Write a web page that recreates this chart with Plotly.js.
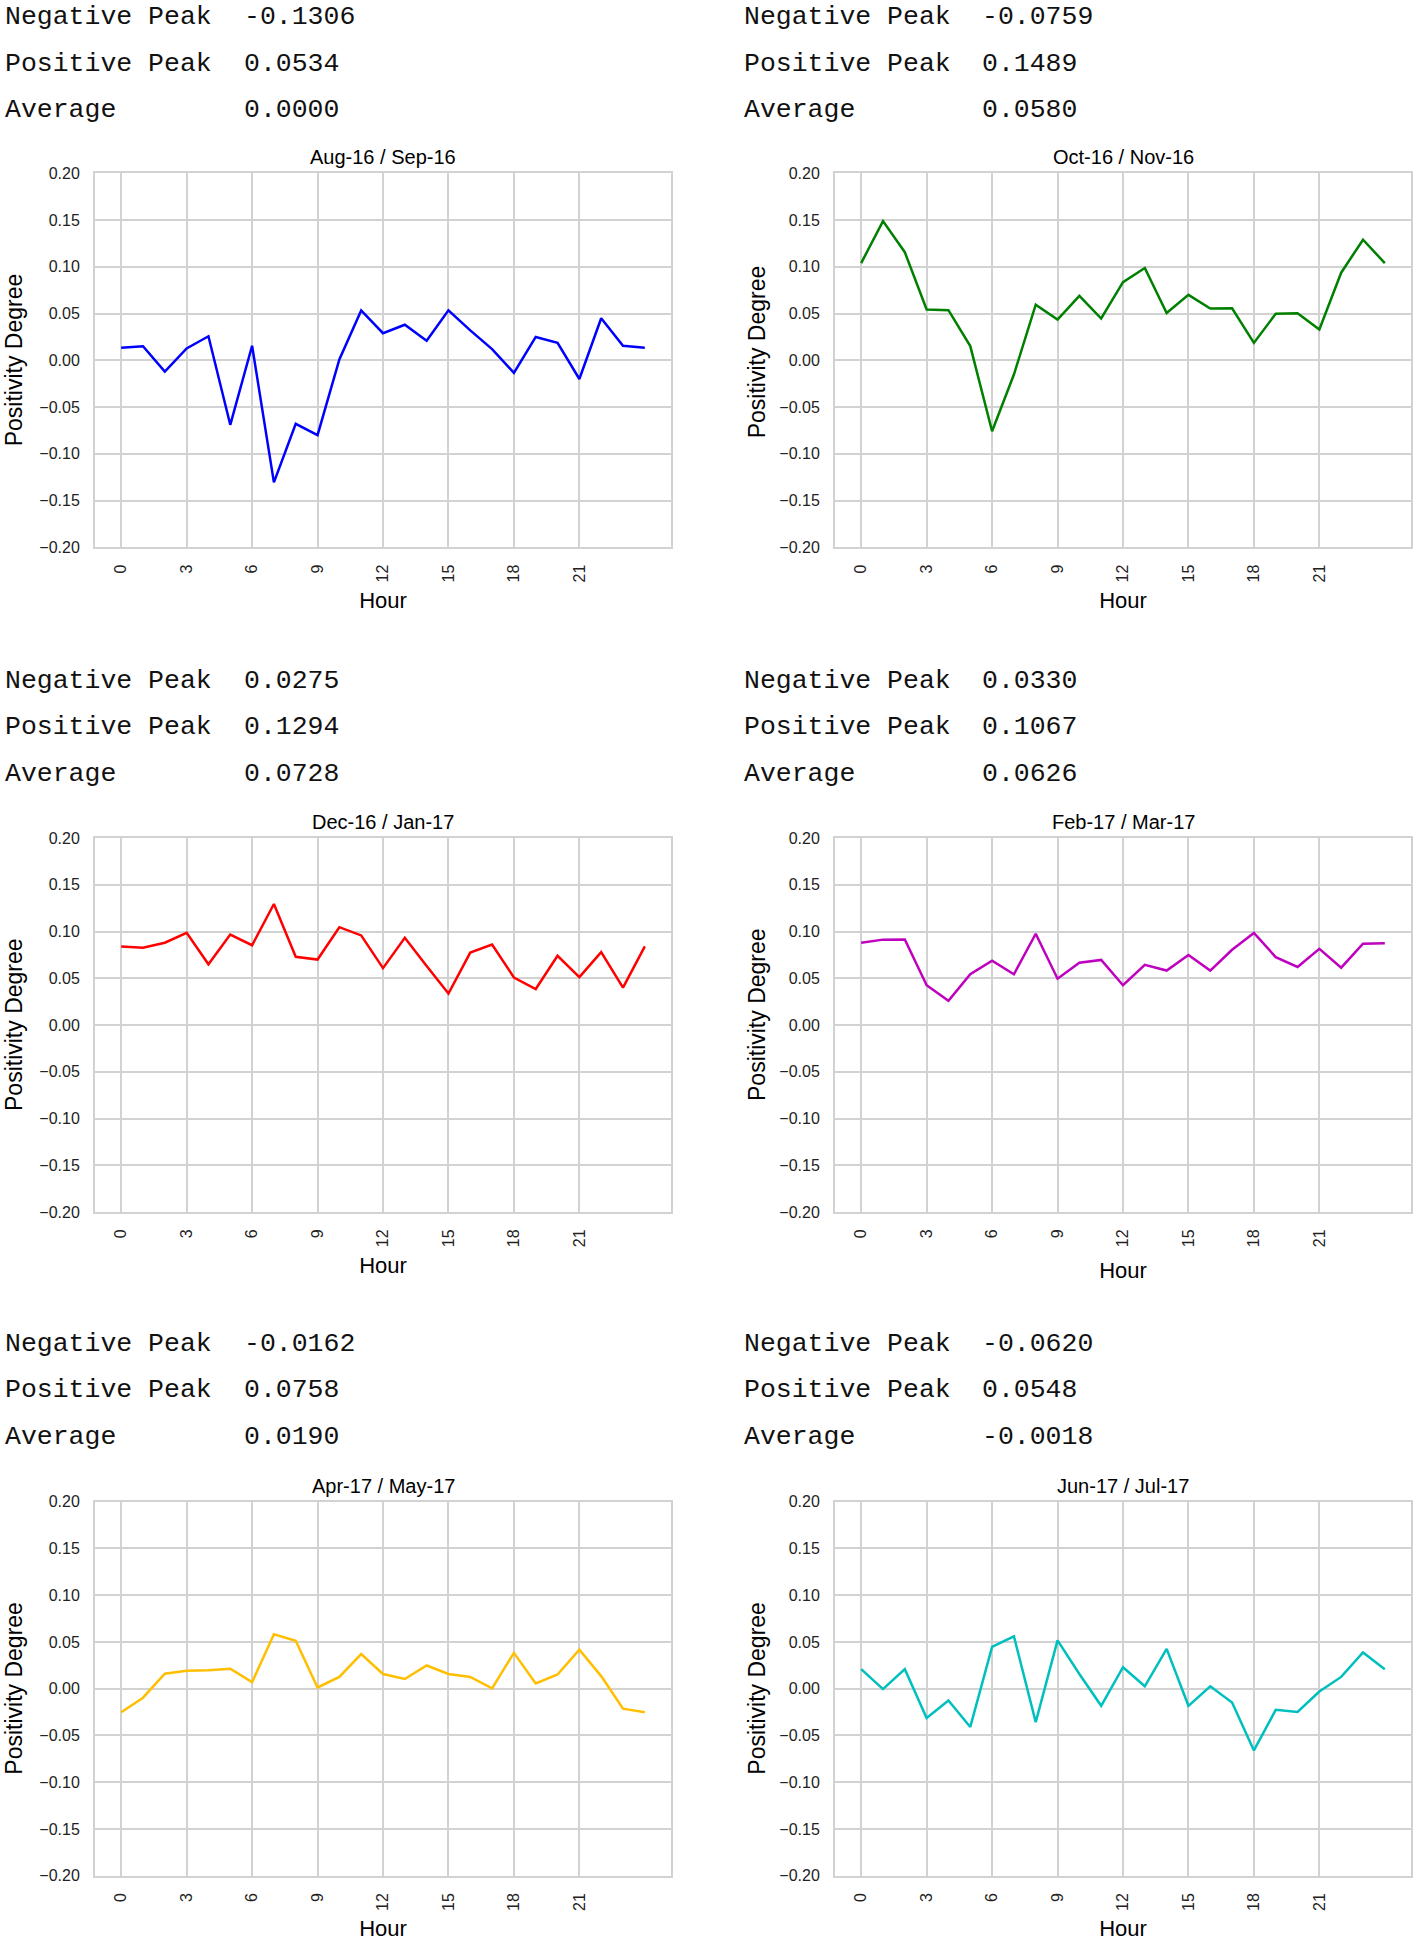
<!DOCTYPE html>
<html>
<head>
<meta charset="utf-8">
<script src="https://cdn.plot.ly/plotly-3.0.1.min.js"></script>
<style>
  html, body { margin: 0; padding: 0; background: #fff; overflow: hidden; }
  #chart { width: 1415px; height: 1941px; }
</style>
</head>
<body>
<div id="chart"></div>
<script>
// hourly positivity degree, two-month windows (hour 24 closes the loop back to hour 0)
const hours = [0, 1, 2, 3, 4, 5, 6, 7, 8, 9, 10, 11, 12, 13, 14, 15, 16, 17, 18, 19, 20, 21, 22, 23, 24];

const augSep = [0.0135, 0.015, -0.012, 0.0127, 0.0257, -0.069, 0.0156, -0.1306, -0.068, -0.080, 0.001, 0.0534,
    0.029, 0.038, 0.021, 0.0534, 0.032, 0.012, -0.0135, 0.025, 0.0186, -0.020, 0.045, 0.0156, 0.0135];
const octNov = [0.104, 0.1489, 0.1156, 0.0544, 0.0536, 0.0152, -0.0759, -0.0152, 0.0595, 0.0435, 0.069, 0.0447,
    0.0835, 0.0987, 0.0506, 0.070, 0.0553, 0.0557, 0.0186, 0.0498, 0.0502, 0.0329, 0.0937, 0.129, 0.104];
const decJan = [0.084, 0.0827, 0.088, 0.0985, 0.065, 0.0967, 0.0853, 0.1294, 0.073, 0.070, 0.1046, 0.0958,
    0.0608, 0.0932, 0.063, 0.0337, 0.0775, 0.086, 0.0508, 0.0385, 0.074, 0.0512, 0.078, 0.040, 0.084];
const febMar = [0.088, 0.0913, 0.0915, 0.0425, 0.0258, 0.0543, 0.0687, 0.0543, 0.0976, 0.0495, 0.0665, 0.0696,
    0.0425, 0.0643, 0.0582, 0.0748, 0.0582, 0.0805, 0.0985, 0.0726, 0.0621, 0.0814, 0.0613, 0.087, 0.0875];
const aprMay = [-0.0252, -0.0096, 0.0161, 0.0191, 0.0196, 0.0213, 0.007, 0.0583, 0.0513, 0.0013, 0.0126, 0.037,
    0.0157, 0.0104, 0.0248, 0.0157, 0.0126, 0.0004, 0.0383, 0.0057, 0.0152, 0.0417, 0.0135, -0.0213, -0.0252];
const junJul = [0.0209, -0.0004, 0.0209, -0.0313, -0.0126, -0.0409, 0.0448, 0.0561, -0.0357, 0.0517, 0.0157, -0.0183,
    0.023, 0.0026, 0.0426, -0.0183, 0.0026, -0.0148, -0.066, -0.0226, -0.0248, -0.003, 0.0126, 0.0387, 0.0209];

const periods = ["Aug-16 / Sep-16", "Oct-16 / Nov-16", "Dec-16 / Jan-17", "Feb-17 / Mar-17", "Apr-17 / May-17", "Jun-17 / Jul-17"];
const negativePeak = [-0.1306, -0.0759, 0.0275, 0.0330, -0.0162, -0.0620];
const positivePeak = [0.0534, 0.1489, 0.1294, 0.1067, 0.0758, 0.0548];
const average = [0.0000, 0.0580, 0.0728, 0.0626, 0.0190, -0.0018];

const hourTicks = [0, 3, 6, 9, 12, 15, 18, 21];
const degreeTicks = [-0.20, -0.15, -0.10, -0.05, 0.00, 0.05, 0.10, 0.15, 0.20];

const series = [augSep, octNov, decJan, febMar, aprMay, junJul];
const colors = ["#0000ff", "#008000", "#ff0000", "#bf00bf", "#ffbf00", "#00bfbf"];

// page geometry in px
const W = 1415, H = 1941;
const colLeft = [95, 835];
const rowTop = [173.3, 838, 1501.7];
const plotW = 576, plotH = 374;
const textShift = [0, -1.5, -2];
// small per-panel nudges seen in the original (each panel was its own figure)
const yTitleLift = [0, 8, 0, 10, 0, 0];
const xTitleStandoff = [11, 11, 11, 16, 11, 11];

const px = v => v / W;
const py = v => 1 - v / H;

const gridGrey = "#d2d2d2";
const sans = "Liberation Sans, Arial, sans-serif";
const mono = "Liberation Mono, Courier New, monospace";

let traces = [];
let layout = {
    width: W,
    height: H,
    margin: {l: 0, r: 0, t: 0, b: 0},
    paper_bgcolor: "#ffffff",
    plot_bgcolor: "#ffffff",
    showlegend: false,
    font: {family: sans, color: "#000000"},
    annotations: []
};

for (let i = 0; i < series.length; i++) {
    const col = i % 2, row = Math.floor(i / 2);
    const n = i === 0 ? "" : String(i + 1);
    const left = colLeft[col], top = rowTop[row];

    traces.push({
        x: hours,
        y: series[i],
        type: "scatter",
        mode: "lines",
        line: {color: colors[i], width: 2.5},
        xaxis: "x" + n,
        yaxis: "y" + n
    });

    layout["xaxis" + n] = {
        domain: [px(left), px(left + plotW)],
        anchor: "y" + n,
        range: [-1.2, 25.2],
        tickmode: "array",
        tickvals: hourTicks,
        ticktext: hourTicks.map(String),
        tickangle: -90,
        ticks: "outside",
        ticklen: 9,
        tickcolor: "rgba(0,0,0,0)",
        tickfont: {size: 16, color: "#222222", family: sans},
        showgrid: true,
        gridcolor: gridGrey,
        gridwidth: 2,
        zeroline: false,
        showline: true,
        mirror: true,
        linecolor: gridGrey,
        linewidth: 2,
        title: {text: "Hour", font: {size: 22, family: sans}, standoff: xTitleStandoff[i]}
    };

    layout["yaxis" + n] = {
        domain: [py(top + plotH), py(top)],
        anchor: "x" + n,
        range: [-0.2, 0.2],
        tickmode: "array",
        tickvals: degreeTicks,
        tickformat: ".2f",
        ticks: "outside",
        ticklen: 10,
        tickcolor: "rgba(0,0,0,0)",
        tickfont: {size: 16, color: "#222222", family: sans},
        showgrid: true,
        gridcolor: gridGrey,
        gridwidth: 2,
        zeroline: false,
        showline: true,
        mirror: true,
        linecolor: gridGrey,
        linewidth: 2
    };

    // y axis title
    layout.annotations.push({
        text: "Positivity Degree",
        xref: "paper", yref: "paper",
        x: px(left - (col === 0 ? 81 : 78)), y: py(top + plotH / 2 - yTitleLift[i]),
        xanchor: "center", yanchor: "middle",
        textangle: -90,
        showarrow: false,
        font: {size: 23, family: sans, color: "#000000"}
    });

    // subplot title
    layout.annotations.push({
        text: periods[i],
        xref: "paper", yref: "paper",
        x: px(left + plotW / 2), y: py(top - 16),
        xanchor: "center", yanchor: "middle",
        showarrow: false,
        font: {size: 20, family: sans, color: "#000000"}
    });

    // stats block above each chart
    const statRows = [
        ["Negative Peak", negativePeak[i]],
        ["Positive Peak", positivePeak[i]],
        ["Average", average[i]]
    ];
    const textLeft = col === 0 ? 3 : 741.5;
    const valueLeft = col === 0 ? 242.4 : 980;
    statRows.forEach((r, k) => {
        const yc = top - 155.8 + k * 46.5 + textShift[row];
        layout.annotations.push({
            text: r[0], xref: "paper", yref: "paper",
            x: px(textLeft), y: py(yc), xanchor: "left", yanchor: "middle",
            showarrow: false, font: {size: 26.5, family: mono, color: "#111111"}
        });
        layout.annotations.push({
            text: r[1].toFixed(4), xref: "paper", yref: "paper",
            x: px(valueLeft), y: py(yc), xanchor: "left", yanchor: "middle",
            showarrow: false, font: {size: 26.5, family: mono, color: "#111111"}
        });
    });
}

Plotly.newPlot("chart", traces, layout, {staticPlot: true});
</script>
</body>
</html>
